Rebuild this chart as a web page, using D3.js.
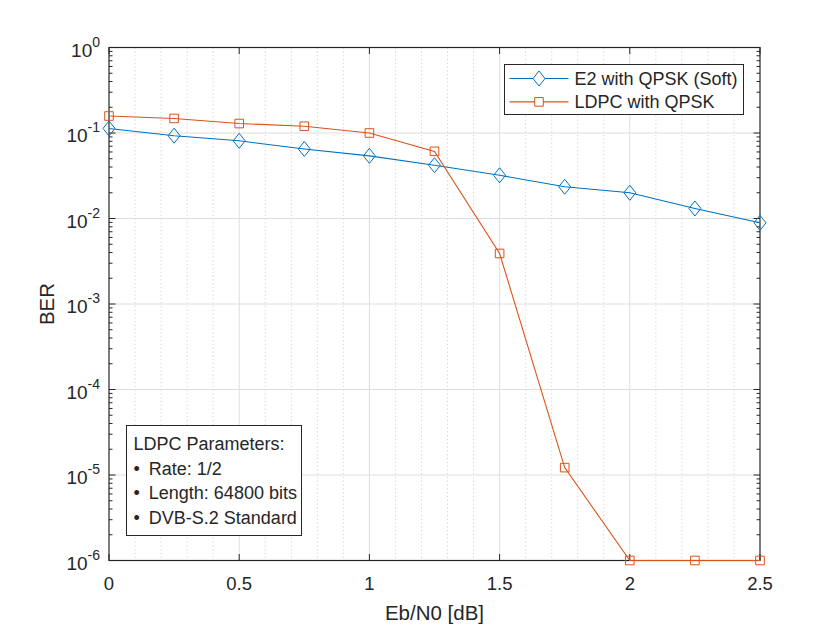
<!DOCTYPE html>
<html>
<head>
<meta charset="utf-8">
<script src="https://cdn.jsdelivr.net/npm/d3@7"></script>
<style>
    body { margin: 0; background: #fff; }
    text { font-family: "Liberation Sans", Arial, sans-serif; fill: #262626; }
</style>
</head>
<body>
<div id="wrapper"></div>
<script>
const ebn0 = [0, 0.25, 0.5, 0.75, 1, 1.25, 1.5, 1.75, 2, 2.25, 2.5];
const berE2 = [0.113, 0.093, 0.081, 0.065, 0.054, 0.042, 0.032, 0.0235, 0.020, 0.0131, 0.0089];
const berLdpc = [0.158, 0.148, 0.129, 0.12, 0.10, 0.061, 0.0039, 1.22e-5, 1e-6, 1e-6, 1e-6];
const xTicks = [0, 0.5, 1, 1.5, 2, 2.5];
const xTickLabels = ["0", "0.5", "1", "1.5", "2", "2.5"];
const yExponents = [0, -1, -2, -3, -4, -5, -6];
const seriesNames = ["E2 with QPSK (Soft)", "LDPC with QPSK"];
const noteLines = ["LDPC Parameters:", "\u2022\u2002Rate: 1/2", "\u2022\u2002Length: 64800 bits", "\u2022\u2002DVB-S.2 Standard"];

function draw() {
    const blue = "#0072BD";
    const orange = "#D95319";

    let dimensions = {
        width: 840,
        height: 630,
        margin: { top: 47.5, right: 80, bottom: 69.5, left: 109 },
    };
    dimensions.boundedWidth = dimensions.width - dimensions.margin.left - dimensions.margin.right;
    dimensions.boundedHeight = dimensions.height - dimensions.margin.top - dimensions.margin.bottom;

    const wrapper = d3.select("#wrapper")
        .append("svg")
        .attr("width", dimensions.width)
        .attr("height", dimensions.height);

    const bounds = wrapper.append("g")
        .attr("transform", `translate(${dimensions.margin.left},${dimensions.margin.top})`);

    const xScale = d3.scaleLinear()
        .domain([0, 2.5])
        .range([0, dimensions.boundedWidth]);

    const yScale = d3.scaleLog()
        .domain([1e-6, 1])
        .range([dimensions.boundedHeight, 0]);

    // grid: minor x (dotted), then major
    const xMinor = d3.range(1, 25).map(i => i / 10).filter(v => Math.abs(v * 2 - Math.round(v * 2)) > 1e-6);
    bounds.append("g").selectAll("line")
        .data(xMinor)
        .join("line")
        .attr("x1", d => xScale(d)).attr("x2", d => xScale(d))
        .attr("y1", 0).attr("y2", dimensions.boundedHeight)
        .attr("stroke", "#c8c8c8")
        .attr("stroke-width", 0.8)
        .attr("stroke-dasharray", "1.2 2.6");

    bounds.append("g").selectAll("line")
        .data(xTicks.slice(1, -1))
        .join("line")
        .attr("x1", d => xScale(d)).attr("x2", d => xScale(d))
        .attr("y1", 0).attr("y2", dimensions.boundedHeight)
        .attr("stroke", "#dedede");

    bounds.append("g").selectAll("line")
        .data(yExponents.slice(1, -1))
        .join("line")
        .attr("x1", 0).attr("x2", dimensions.boundedWidth)
        .attr("y1", d => yScale(Math.pow(10, d))).attr("y2", d => yScale(Math.pow(10, d)))
        .attr("stroke", "#dedede");

    // axes box + ticks
    const axisColor = "#262626";
    bounds.append("rect")
        .attr("width", dimensions.boundedWidth)
        .attr("height", dimensions.boundedHeight)
        .attr("fill", "none")
        .attr("stroke", axisColor)
        .attr("stroke-width", 1.2);

    const majorLen = 6.5, minorLen = 3.5;
    const yMinor = [];
    yExponents.slice(1).forEach(e => {
        for (let k = 2; k <= 9; k++) yMinor.push(k * Math.pow(10, e));
    });
    const tickG = bounds.append("g").attr("stroke", axisColor).attr("stroke-width", 1);
    [0, dimensions.boundedWidth].forEach((x0, side) => {
        const dir = side === 0 ? 1 : -1;
        tickG.selectAll(null)
            .data(yExponents)
            .join("line")
            .attr("x1", x0).attr("x2", x0 + dir * majorLen)
            .attr("y1", d => yScale(Math.pow(10, d))).attr("y2", d => yScale(Math.pow(10, d)));
        tickG.selectAll(null)
            .data(yMinor)
            .join("line")
            .attr("x1", x0).attr("x2", x0 + dir * minorLen)
            .attr("y1", d => yScale(d)).attr("y2", d => yScale(d));
    });
    [dimensions.boundedHeight, 0].forEach((y0, side) => {
        const dir = side === 0 ? -1 : 1;
        tickG.selectAll(null)
            .data(xTicks)
            .join("line")
            .attr("x1", d => xScale(d)).attr("x2", d => xScale(d))
            .attr("y1", y0).attr("y2", y0 + dir * majorLen);
    });

    // tick labels
    bounds.append("g").selectAll("text")
        .data(xTicks)
        .join("text")
        .attr("x", d => xScale(d))
        .attr("y", dimensions.boundedHeight + 29)
        .attr("text-anchor", "middle")
        .style("font-size", "18.5px")
        .text((d, i) => xTickLabels[i]);

    const yLabels = bounds.append("g").selectAll("text")
        .data(yExponents)
        .join("text")
        .attr("x", -9)
        .attr("y", d => yScale(Math.pow(10, d)) + 9)
        .attr("text-anchor", "end")
        .style("font-size", "19px");
    yLabels.append("tspan").text("10");
    yLabels.append("tspan")
        .attr("dy", -10)
        .style("font-size", "14px")
        .text(d => d);

    // axis titles
    bounds.append("text")
        .attr("x", dimensions.boundedWidth / 2)
        .attr("y", dimensions.boundedHeight + 59.5)
        .attr("text-anchor", "middle")
        .style("font-size", "20.5px")
        .text("Eb/N0 [dB]");

    bounds.append("text")
        .attr("transform", `translate(${54 - dimensions.margin.left},${dimensions.boundedHeight / 2}) rotate(-90)`)
        .attr("text-anchor", "middle")
        .style("font-size", "20.5px")
        .text("BER");

    // series
    const line = d3.line()
        .x(d => xScale(d[0]))
        .y(d => yScale(d[1]));

    const diamond = "M0,-7.5L6,0L0,7.5L-6,0Z";
    const square = "M-4.3,-4.3H4.3V4.3H-4.3Z";

    const series = [
        { name: seriesNames[0], values: berE2, color: blue, marker: diamond },
        { name: seriesNames[1], values: berLdpc, color: orange, marker: square },
    ];

    series.forEach(s => {
        const pts = ebn0.map((x, i) => [x, s.values[i]]);
        bounds.append("path")
            .datum(pts)
            .attr("d", line)
            .attr("fill", "none")
            .attr("stroke", s.color)
            .attr("stroke-width", 1.1);
        bounds.append("g").selectAll("path")
            .data(pts)
            .join("path")
            .attr("transform", d => `translate(${xScale(d[0])},${yScale(d[1])})`)
            .attr("d", s.marker)
            .attr("fill", "none")
            .attr("stroke", s.color)
            .attr("stroke-width", 1);
    });

    // legend
    const legend = wrapper.append("g").attr("transform", "translate(504.5,64.5)");
    legend.append("rect")
        .attr("width", 239)
        .attr("height", 50)
        .attr("fill", "#fff")
        .attr("stroke", axisColor)
        .attr("stroke-width", 1);
    series.forEach((s, i) => {
        const cy = 14 + i * 23.4;
        legend.append("line")
            .attr("x1", 5).attr("x2", 64)
            .attr("y1", cy).attr("y2", cy)
            .attr("stroke", s.color).attr("stroke-width", 1.1);
        legend.append("path")
            .attr("transform", `translate(34.5,${cy})`)
            .attr("d", s.marker)
            .attr("fill", "#fff")
            .attr("stroke", s.color);
        legend.append("text")
            .attr("x", 70)
            .attr("y", cy + 6.5)
            .style("font-size", "18px")
            .text(s.name);
    });

    // parameter note
    const note = wrapper.append("g").attr("transform", "translate(126.5,425.5)");
    note.append("rect")
        .attr("width", 175)
        .attr("height", 110)
        .attr("fill", "#fff")
        .attr("stroke", axisColor)
        .attr("stroke-width", 1);
    note.selectAll("text")
        .data(noteLines)
        .join("text")
        .attr("x", 7)
        .attr("y", (d, i) => 24.5 + i * 24.5)
        .style("font-size", "18px")
        .text(d => d);
}
draw();
</script>
</body>
</html>
